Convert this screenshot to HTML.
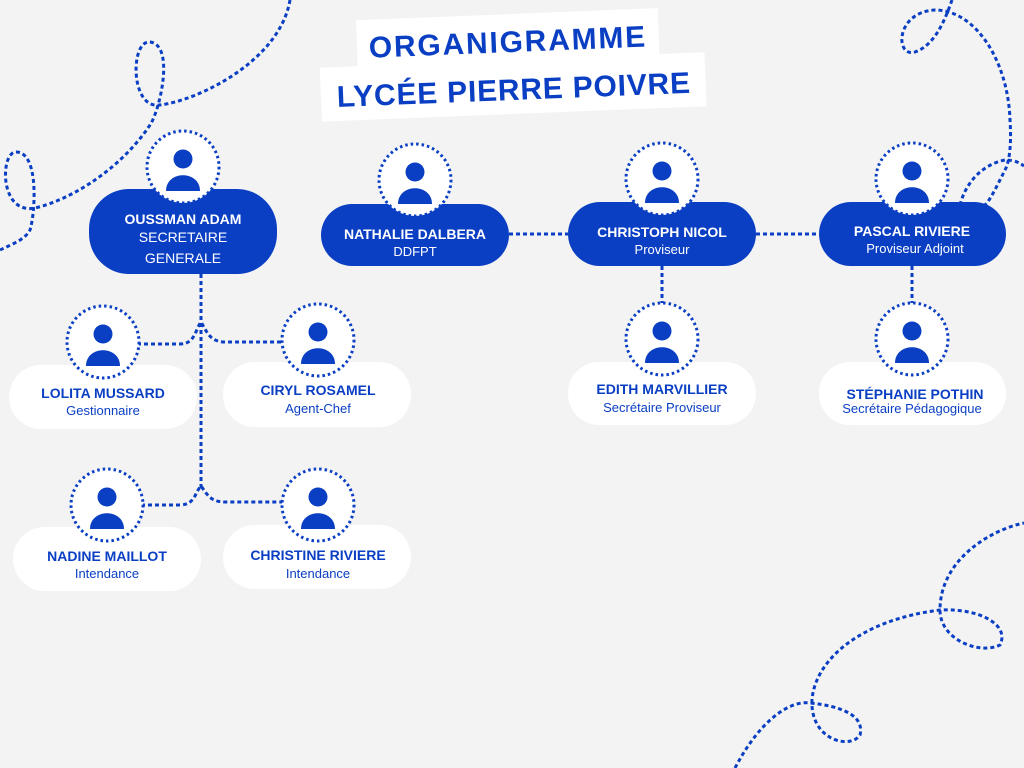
<!DOCTYPE html>
<html><head><meta charset="utf-8"><style>
html,body{margin:0;padding:0;background:#f3f3f3;}
svg{display:block;}
text{font-family:"Liberation Sans",sans-serif;}
</style></head><body>
<svg width="1024" height="768" viewBox="0 0 1024 768" xmlns="http://www.w3.org/2000/svg">
<defs>
<g id="p"><circle r="36" fill="#fff" stroke="#0a3fc4" stroke-width="3" stroke-dasharray="2.5 3"/><circle cy="-8" r="9.5" fill="#0a3fc4"/><path d="M-17 24 C-17 3,17 3,17 24 Z" fill="#0a3fc4"/></g>
</defs>
<g fill="none" stroke="#0a3fc4" stroke-width="3" stroke-dasharray="4 3">
<path d="M290,0 C280,60 200,100 160,105 C130,110 130,40 150,42 C175,45 160,110 150,125 C120,170 70,200 35,208 C0,215 0,155 15,152 C40,150 35,215 30,230 C25,240 10,245 0,250"/>
<path d="M735,768 C760,720 790,700 810,703 C840,706 865,715 860,735 C850,750 810,740 812,700 C815,660 860,620 940,610 C980,608 1010,625 1000,645 C980,655 940,640 940,610 C940,560 990,530 1024,523"/>
<path d="M952,0 C945,20 935,45 915,52 C895,58 895,12 935,10 C975,10 1008,60 1010,120 C1012,150 1008,165 1005,170 C995,190 990,200 985,205"/>
<path d="M960,205 C965,185 980,165 1005,160 C1015,160 1020,163 1024,166"/>
<path d="M201,274 L201,490"/>
<path d="M137,344 L180,344 C195,344 195,330 201,322 C207,332 210,342 225,342 L284,342"/>
<path d="M141,505 L180,505 C195,505 195,492 201,486 C207,494 210,502 225,502 L284,502"/>
<path d="M509,234 L568,234"/>
<path d="M756,234 L819,234"/>
<path d="M662,266 L662,303"/>
<path d="M912,266 L912,303"/>
</g>
<g transform="rotate(-2.3 512 70)">
<rect x="358" y="14" width="302" height="50" fill="#fff"/>
<rect x="320" y="60" width="385" height="54" fill="#fff"/>
<text x="509" y="52" text-anchor="middle" font-size="30" font-weight="bold" fill="#0a3fc4" letter-spacing="1.8">ORGANIGRAMME</text>
<text x="513" y="100" text-anchor="middle" font-size="30" font-weight="bold" fill="#0a3fc4" letter-spacing="0.8">LYCÉE PIERRE POIVRE</text>
</g>
<g>
<rect x="89" y="189" width="188" height="85" rx="40" fill="#0a3fc4"/>
<rect x="321" y="204" width="188" height="62" rx="31" fill="#0a3fc4"/>
<rect x="568" y="202" width="188" height="64" rx="32" fill="#0a3fc4"/>
<rect x="819" y="202" width="187" height="64" rx="32" fill="#0a3fc4"/>
<rect x="568" y="362" width="188" height="63" rx="31" fill="#fff"/>
<rect x="819" y="362" width="187" height="63" rx="31" fill="#fff"/>
<rect x="9" y="365" width="188" height="64" rx="32" fill="#fff"/>
<rect x="223" y="362" width="188" height="65" rx="32" fill="#fff"/>
<rect x="13" y="527" width="188" height="64" rx="32" fill="#fff"/>
<rect x="223" y="525" width="188" height="64" rx="32" fill="#fff"/>
</g>
<use href="#p" x="183" y="167"/><use href="#p" x="415" y="180"/><use href="#p" x="662" y="179"/><use href="#p" x="912" y="179"/>
<use href="#p" x="662" y="339"/><use href="#p" x="912" y="339"/><use href="#p" x="103" y="342"/><use href="#p" x="318" y="340"/>
<use href="#p" x="107" y="505"/><use href="#p" x="318" y="505"/>
<g text-anchor="middle" font-size="14">
<g fill="#fff">
<text x="183" y="224" font-weight="bold">OUSSMAN ADAM</text>
<text x="183" y="242">SECRETAIRE</text>
<text x="183" y="263">GENERALE</text>
<text x="415" y="239" font-weight="bold">NATHALIE DALBERA</text>
<text x="415" y="256" font-size="13">DDFPT</text>
<text x="662" y="237" font-weight="bold">CHRISTOPH NICOL</text>
<text x="662" y="254" font-size="13">Proviseur</text>
<text x="912" y="236" font-weight="bold">PASCAL RIVIERE</text>
<text x="915" y="253" font-size="13">Proviseur Adjoint</text>
</g>
<g fill="#0a3fc4">
<text x="662" y="394" font-weight="bold">EDITH MARVILLIER</text>
<text x="662" y="412" font-size="13">Secrétaire Proviseur</text>
<text x="915" y="399" font-weight="bold">STÉPHANIE POTHIN</text>
<text x="912" y="413" font-size="13">Secrétaire Pédagogique</text>
<text x="103" y="398" font-weight="bold">LOLITA MUSSARD</text>
<text x="103" y="415" font-size="13">Gestionnaire</text>
<text x="318" y="395" font-weight="bold">CIRYL ROSAMEL</text>
<text x="318" y="413" font-size="13">Agent-Chef</text>
<text x="107" y="561" font-weight="bold">NADINE MAILLOT</text>
<text x="107" y="578" font-size="13">Intendance</text>
<text x="318" y="560" font-weight="bold">CHRISTINE RIVIERE</text>
<text x="318" y="578" font-size="13">Intendance</text>
</g>
</g>
</svg>
</body></html>
